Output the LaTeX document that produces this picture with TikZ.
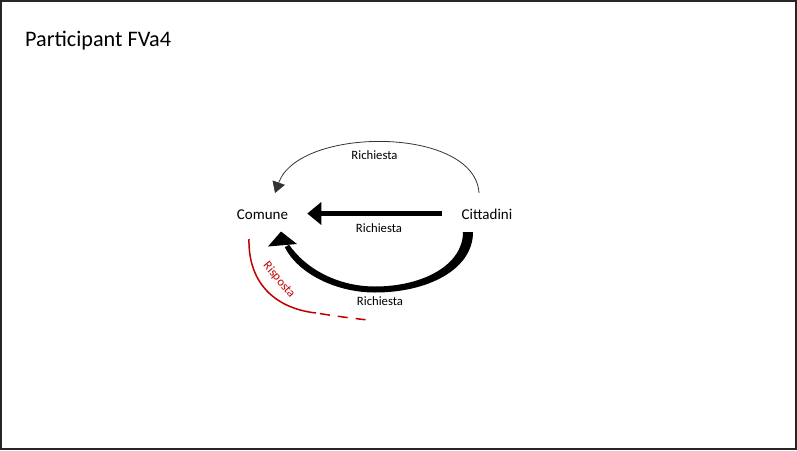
\documentclass[tikz,border=0pt]{standalone}
\usepackage{fontspec}
\setmainfont{Carlito}
\usetikzlibrary{arrows.meta}
\definecolor{answerred}{RGB}{192,0,0}
\tikzset{
  party/.style={inner sep=0pt, anchor=base, text height=11pt, text depth=0pt,
    font=\fontsize{15}{18}\selectfont},
  flowlabel/.style={inner sep=0pt, anchor=base, font=\fontsize{12.7}{15}\selectfont},
  thinflow/.style={draw=black!80, line width=0.8pt, -{Triangle[length=11pt,width=13pt]}},
  mainflow/.style={draw=black, line width=4.3pt, -{Triangle[length=14pt,width=22pt]}},
  reply/.style={draw=answerred, line width=1.5pt},
}
\begin{document}
\begin{tikzpicture}[x=1pt, y=-1pt]
  % page frame
  \useasboundingbox (0,0) rectangle (797,450);
  \draw[black!85, line width=2.4pt] (1.2,1.2) rectangle (795.8,448.8);

  % title
  \node[inner sep=0pt, anchor=base west, font=\fontsize{22.2}{26}\selectfont]
    (title) at (25,46) {Participant FVa4};

  % the two parties
  \node[party] (com) at (262.5,219) {Comune};
  \node[party] (citt) at (487,219) {Cittadini};

  % upper thin request arc
  \coordinate (upStart) at (479,193);
  \coordinate (upEnd) at (275,193);
  \draw[thinflow] (upStart) .. controls (475,126) and (299,126) .. (upEnd);
  \node[flowlabel] (lblTop) at (374.5,159) {Richiesta};

  % straight request arrow
  \draw[mainflow, shorten <=19.3pt, shorten >=19pt] (citt.west) -- (com.east);
  \node[flowlabel] (lblMid) at (379,232) {Richiesta};

  % lower thick, tapering request arc with its head
  \fill[black] (473,232) .. controls (473,270) and (427,292.5) .. (375,292.5)
     .. controls (334,292.5) and (297,272) .. (284.8,247.2)
     -- (289.2,244.8) .. controls (305,268) and (337,286.5) .. (375,286.5)
     .. controls (423,286.5) and (463,265) .. (463,232) -- cycle;
  \fill[black] (281,231.5) -- (268,246.5) -- (297,244) -- cycle;
  \node[flowlabel] (lblLow) at (380,305.5) {Richiesta};

  % reply from the Comune: solid, then fading into dashes
  \coordinate (repStart) at (249,239);
  \coordinate (repMid) at (316,313);
  \coordinate (repEnd) at (368,320);
  \draw[reply] (repStart) .. controls (248,280) and (272,308) .. (repMid);
  \draw[reply, dash pattern=on 10pt off 8pt, dash phase=14pt]
    (repMid) .. controls (335,316) and (350,318) .. (repEnd);
  \node[inner sep=0pt, text=answerred, rotate=-50,
    font=\fontsize{12.5}{15}\selectfont] (lblReply) at (279,280) {Risposta};
\end{tikzpicture}
\end{document}
